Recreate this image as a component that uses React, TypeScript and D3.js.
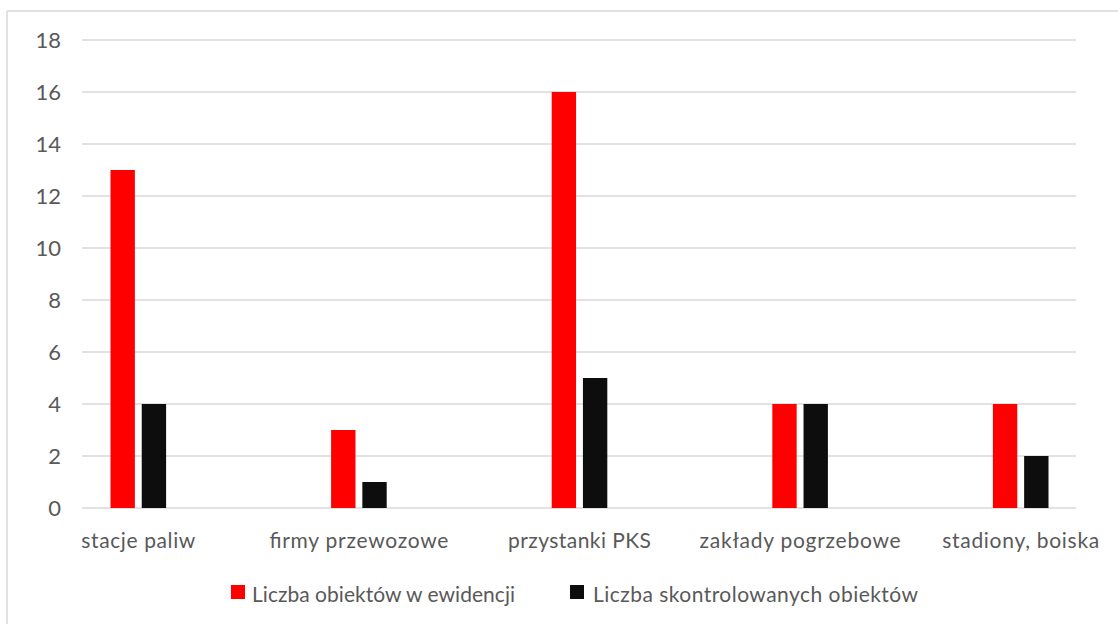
import React from "react";
import * as d3 from "d3";

// Object categories and the two counted series
const categories = [
  "stacje paliw",
  "firmy przewozowe",
  "przystanki PKS",
  "zakłady pogrzebowe",
  "stadiony, boiska",
];
const seriesNames = [
  "Liczba obiektów w ewidencji",
  "Liczba skontrolowanych obiektów",
];
const registered = [13, 3, 16, 4, 4];
const inspected = [4, 1, 5, 4, 2];
const yTicks = [0, 2, 4, 6, 8, 10, 12, 14, 16, 18];

const seriesValues = [registered, inspected];
const seriesColors = ["#FF0000", "#0D0D0D"];

const W = 1118;
const H = 624;
const FONT = "Lato, 'Open Sans', sans-serif";
const TEXT = "#595959";
const GRID = "#D9D9D9";

export default function App() {
  const y = d3.scaleLinear().domain([0, 18]).range([508, 40]);
  const x = d3.scaleBand<string>().domain(categories).range([28, 1131]).padding(0);
  const inner = d3
    .scaleBand<number>()
    .domain([0, 1])
    .range([-27.8, 27.8])
    .paddingInner(0.22);

  const labelWidths = [114, 179, 143, 201, 157];
  const legend = [
    { sx: 231, tx: 252, tw: 263 },
    { sx: 570, tx: 593, tw: 325 },
  ];

  return (
    <div style={{ position: "absolute", left: 0, top: 0 }}>
      <svg width={W} height={H} style={{ display: "block", background: "#fff" }}>
        {/* chart frame */}
        <line x1={7} y1={11} x2={W + 5} y2={11} stroke={GRID} strokeWidth={1.5} />
        <line x1={7} y1={11} x2={7} y2={H + 5} stroke={GRID} strokeWidth={1.5} />

        {/* horizontal gridlines and value ticks */}
        {yTicks.map((t) => (
          <g key={t}>
            <line x1={82} x2={1076} y1={y(t)} y2={y(t)} stroke={GRID} strokeWidth={1.4} />
            <text
              x={61}
              y={y(t) + 8}
              textAnchor="end"
              fontFamily={FONT}
              fontSize={22}
              fill={TEXT}
            >
              {t}
            </text>
          </g>
        ))}

        {/* bars */}
        {categories.map((c, i) => {
          const cx = (x(c) ?? 0) + x.bandwidth() / 2;
          return (
            <g key={c}>
              {seriesValues.map((vals, s) => (
                <rect
                  key={s}
                  x={cx + (inner(s) ?? 0)}
                  y={y(vals[i])}
                  width={inner.bandwidth()}
                  height={y(0) - y(vals[i])}
                  fill={seriesColors[s]}
                />
              ))}
              <text
                x={cx}
                y={548}
                textAnchor="middle"
                fontFamily={FONT}
                fontSize={21}
                fill={TEXT}
                textLength={labelWidths[i]}
                lengthAdjust="spacing"
              >
                {c}
              </text>
            </g>
          );
        })}

        {/* legend */}
        {seriesNames.map((n, s) => (
          <g key={n}>
            <rect x={legend[s].sx} y={585} width={14} height={14} fill={seriesColors[s]} />
            <text
              x={legend[s].tx}
              y={602}
              fontFamily={FONT}
              fontSize={21}
              fill={TEXT}
              textLength={legend[s].tw}
              lengthAdjust="spacing"
            >
              {n}
            </text>
          </g>
        ))}
      </svg>
    </div>
  );
}
